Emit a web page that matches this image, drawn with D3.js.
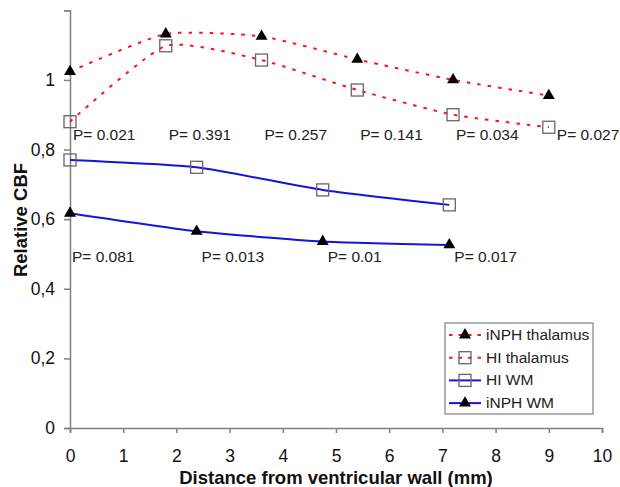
<!DOCTYPE html>
<html>
<head>
<meta charset="utf-8">
<script src="https://cdn.jsdelivr.net/npm/d3@7"></script>
<style>
  html, body { margin: 0; padding: 0; background: #fff; }
  svg { display: block; font-family: Arial, 'Liberation Sans', sans-serif; }
</style>
</head>
<body>
<div id="chart"></div>
<script>
// distance from ventricular wall (mm)
const thalamusX = [0, 1.8, 3.6, 5.4, 7.2, 9];
const wmX = [0, 2.38, 4.75, 7.13];

// relative CBF
const inphThalamus = [1.024, 1.132, 1.125, 1.059, 1.0, 0.955];
const hiThalamus = [0.880, 1.098, 1.057, 0.971, 0.900, 0.864];
const hiWM = [0.770, 0.749, 0.684, 0.641];
const inphWM = [0.617, 0.565, 0.536, 0.526];

// p values
const thalamusP = ['P= 0.021', 'P= 0.391', 'P= 0.257', 'P= 0.141', 'P= 0.034', 'P= 0.027'];
const wmP = ['P= 0.081', 'P= 0.013', 'P= 0.01', 'P= 0.017'];

const xTicks = [0, 1, 2, 3, 4, 5, 6, 7, 8, 9, 10];
const yTicks = [0, 0.2, 0.4, 0.6, 0.8, 1, 1.2];
const yTickLabels = ['0', '0,2', '0,4', '0,6', '0,8', '1', ''];

const series = [
  { name: 'iNPH thalamus', x: thalamusX, y: inphThalamus, color: '#ff1020', dash: '3.5,7', marker: 'tri' },
  { name: 'HI thalamus', x: thalamusX, y: hiThalamus, color: '#ff1020', dash: '3.5,7', marker: 'sq' },
  { name: 'HI WM', x: wmX, y: hiWM, color: '#1414e0', dash: null, marker: 'sq' },
  { name: 'iNPH WM', x: wmX, y: inphWM, color: '#1414e0', dash: null, marker: 'tri' }
];

const width = 620, height = 487;
const margin = { left: 70, right: 18, top: 10, bottom: 59 };

const svg = d3.select('#chart').append('svg')
  .attr('width', width)
  .attr('height', height);

const x = d3.scaleLinear().domain([0, 10]).range([margin.left, width - margin.right]);
const y = d3.scaleLinear().domain([0, 1.2]).range([height - margin.bottom, margin.top + 0.3]);

const axisColor = '#808080';

// axes
const gx = svg.append('g')
  .attr('transform', `translate(0,${y(0)})`)
  .call(d3.axisBottom(x).tickValues(xTicks).tickSize(5).tickPadding(17).tickFormat(d3.format('d')));
const gy = svg.append('g')
  .attr('transform', `translate(${x(0)},0)`)
  .call(d3.axisLeft(y).tickValues(yTicks).tickSize(6).tickPadding(9).tickFormat((d, i) => yTickLabels[i]));

[gx, gy].forEach(g => {
  g.select('.domain').attr('stroke', axisColor).attr('stroke-width', 1.5);
  g.selectAll('.tick line').attr('stroke', axisColor).attr('stroke-width', 1.5);
  g.selectAll('.tick text').attr('fill', '#111').style('font-size', '17.5px')
    .style('font-family', 'Arial, "Liberation Sans", sans-serif');
});

// axis titles
svg.append('text')
  .attr('x', (x(0) + x(10)) / 2)
  .attr('y', 484)
  .attr('text-anchor', 'middle')
  .style('font-size', '18.5px')
  .style('font-weight', 'bold')
  .attr('fill', '#111')
  .text('Distance from ventricular wall (mm)');

svg.append('text')
  .attr('transform', 'translate(27,220) rotate(-90)')
  .attr('text-anchor', 'middle')
  .style('font-size', '18.5px')
  .style('font-weight', 'bold')
  .attr('fill', '#111')
  .text('Relative CBF');

const line = d3.line()
  .x(d => x(d[0]))
  .y(d => y(d[1]))
  .curve(d3.curveCardinal.tension(0.45));

const tri = d3.symbol().type(d3.symbolTriangle).size(62);

function drawMarker(g, type, cx, cy) {
  if (type === 'tri') {
    g.append('path')
      .attr('d', tri)
      .attr('transform', `translate(${cx},${cy})`)
      .attr('fill', '#000');
  } else {
    g.append('rect')
      .attr('x', cx - 6).attr('y', cy - 6)
      .attr('width', 12).attr('height', 12)
      .attr('fill', 'none')
      .attr('stroke', '#666')
      .attr('stroke-width', 1.3);
  }
}

series.forEach(s => {
  const pts = s.x.map((v, i) => [v, s.y[i]]);
  svg.append('path')
    .attr('d', line(pts))
    .attr('fill', 'none')
    .attr('stroke', s.color)
    .attr('stroke-width', 2)
    .attr('stroke-dasharray', s.dash);
  const g = svg.append('g');
  pts.forEach(p => drawMarker(g, s.marker, x(p[0]), y(p[1])));
});

// p value annotations
const pText = svg.append('g')
  .style('font-size', '15.5px')
  .attr('fill', '#222');
thalamusP.forEach((t, i) => {
  pText.append('text')
    .attr('x', x(thalamusX[i]) + (i === thalamusP.length - 1 ? 8 : 3))
    .attr('y', 140)
    .text(t);
});
wmP.forEach((t, i) => {
  pText.append('text')
    .attr('x', x(wmX[i]) + (i === 0 ? 2 : 5))
    .attr('y', 262)
    .text(t);
});

// legend
const legend = svg.append('g').attr('transform', 'translate(445,323)');
legend.append('rect')
  .attr('width', 148).attr('height', 91)
  .attr('fill', '#fff')
  .attr('stroke', '#808080')
  .attr('stroke-width', 1.2);

series.forEach((s, i) => {
  const ly = 12 + i * 22.7;
  const item = legend.append('g');
  item.append('line')
    .attr('x1', 4).attr('x2', 36)
    .attr('y1', ly).attr('y2', ly)
    .attr('stroke', s.color)
    .attr('stroke-width', 2)
    .attr('stroke-dasharray', s.dash ? '3.5,6' : null);
  drawMarker(item, s.marker, 20, ly);
  item.append('text')
    .attr('x', 41)
    .attr('y', ly + 5)
    .style('font-size', '15.5px')
    .attr('fill', '#222')
    .text(s.name);
});
</script>
</body>
</html>
